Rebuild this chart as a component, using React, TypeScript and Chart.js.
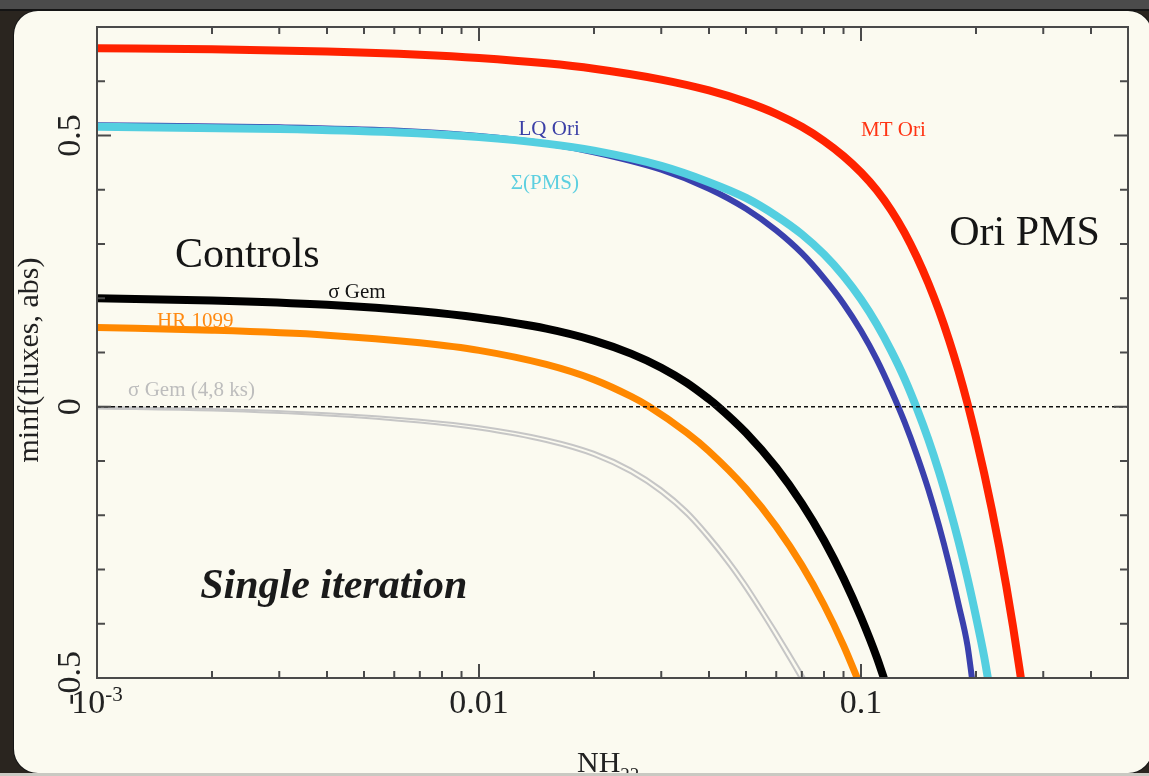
import React, { useEffect, useRef } from "react";
import { Chart, registerables } from "chart.js";

Chart.register(...registerables);

// ---------- data (NH in units of 1e22, value = minf(fluxes, abs)) ----------
const NH_MT_ORI = [0.001, 0.002, 0.004, 0.007, 0.01, 0.015, 0.02, 0.03, 0.04, 0.05, 0.06, 0.07, 0.08, 0.09, 0.1, 0.11, 0.12, 0.13, 0.14, 0.15, 0.16, 0.17, 0.18, 0.19, 0.2, 0.21, 0.22, 0.23, 0.24, 0.25, 0.26, 0.265];
const VAL_MT_ORI = [0.661, 0.659, 0.655, 0.649, 0.643, 0.633, 0.623, 0.603, 0.583, 0.562, 0.54, 0.516, 0.49, 0.462, 0.432, 0.399, 0.362, 0.321, 0.276, 0.228, 0.177, 0.123, 0.066, 0.006, -0.057, -0.122, -0.189, -0.258, -0.33, -0.405, -0.483, -0.523];

const NH_PMS = [0.001, 0.003, 0.006, 0.01, 0.015, 0.02, 0.03, 0.04, 0.05, 0.06, 0.07, 0.08, 0.09, 0.1, 0.11, 0.12, 0.13, 0.14, 0.15, 0.16, 0.17, 0.18, 0.19, 0.2, 0.21, 0.216];
const VAL_PMS = [0.516, 0.512, 0.506, 0.497, 0.485, 0.472, 0.444, 0.414, 0.385, 0.352, 0.318, 0.281, 0.241, 0.198, 0.152, 0.103, 0.052, -0.003, -0.06, -0.12, -0.183, -0.248, -0.316, -0.387, -0.46, -0.51];

const NH_LQ_ORI = [0.001, 0.003, 0.006, 0.01, 0.015, 0.02, 0.03, 0.04, 0.05, 0.06, 0.07, 0.08, 0.09, 0.1, 0.11, 0.12, 0.13, 0.14, 0.15, 0.16, 0.17, 0.18, 0.19, 0.196];
const VAL_LQ_ORI = [0.519, 0.515, 0.509, 0.499, 0.485, 0.469, 0.437, 0.402, 0.365, 0.325, 0.283, 0.237, 0.19, 0.14, 0.087, 0.03, -0.028, -0.089, -0.152, -0.219, -0.29, -0.364, -0.44, -0.51];

const NH_SIG_GEM = [0.001, 0.002, 0.004, 0.007, 0.01, 0.015, 0.02, 0.025, 0.03, 0.035, 0.04, 0.042, 0.05, 0.06, 0.07, 0.08, 0.09, 0.1, 0.11, 0.116];
const VAL_SIG_GEM = [0.2, 0.196, 0.188, 0.176, 0.164, 0.144, 0.122, 0.098, 0.072, 0.044, 0.014, 0.002, -0.048, -0.112, -0.178, -0.246, -0.316, -0.388, -0.462, -0.51];

const NH_HR1099 = [0.001, 0.002, 0.004, 0.007, 0.01, 0.015, 0.02, 0.025, 0.0278, 0.035, 0.04, 0.05, 0.06, 0.07, 0.08, 0.09, 0.1];
const VAL_HR1099 = [0.146, 0.141, 0.132, 0.118, 0.104, 0.078, 0.05, 0.019, 0.001, -0.048, -0.082, -0.151, -0.221, -0.292, -0.365, -0.44, -0.517];

const NH_SIG_GEM_SHORT = [0.001, 0.002, 0.004, 0.007, 0.01, 0.015, 0.02, 0.025, 0.03, 0.035, 0.04, 0.045, 0.05, 0.055, 0.06, 0.065, 0.07, 0.075];
const VAL_SIG_GEM_SHORT_A = [0.0, -0.004, -0.012, -0.024, -0.036, -0.058, -0.083, -0.114, -0.15, -0.19, -0.235, -0.28, -0.325, -0.37, -0.412, -0.452, -0.49, -0.528];
const VAL_SIG_GEM_SHORT_B = [-0.003, -0.007, -0.016, -0.029, -0.042, -0.065, -0.091, -0.123, -0.16, -0.201, -0.247, -0.293, -0.339, -0.384, -0.427, -0.468, -0.507, -0.545];

const NH_ZERO = [0.001, 0.5];
const VAL_ZERO = [0, 0];

// axis ticks
const X_MIN = 0.001;
const X_MAX = 0.5;
const Y_MIN = -0.5;
const Y_MAX = 0.7;
const X_MAJOR = [0.001, 0.01, 0.1];
const X_MAJOR_LABELS = ["10^-3", "0.01", "0.1"];
const X_MINOR = [0.002, 0.003, 0.004, 0.005, 0.006, 0.007, 0.008, 0.009, 0.02, 0.03, 0.04, 0.05, 0.06, 0.07, 0.08, 0.09, 0.2, 0.3, 0.4, 0.5];
const Y_MAJOR = [-0.5, 0, 0.5];
const Y_MAJOR_LABELS = ["-0.5", "0", "0.5"];
const Y_MINOR = [-0.4, -0.3, -0.2, -0.1, 0.1, 0.2, 0.3, 0.4, 0.6, 0.7];

// annotation labels (anchored in data coordinates)
const NOTE_TEXT = ["LQ Ori", "Σ(PMS)", "MT Ori", "Ori PMS", "Controls", "σ Gem", "HR 1099", "σ Gem (4,8 ks)", "Single iteration"];
const NOTE_X = [0.01269, 0.01211, 0.1, 0.1702, 0.0016, 0.00403, 0.001436, 0.001206, 0.001862];
const NOTE_Y = [0.501, 0.401, 0.499, 0.298, 0.258, 0.2, 0.147, 0.0198, -0.3525];
const NOTE_COLOR = ["#3b3fa6", "#5ccfe0", "#ff3414", "#151515", "#151515", "#151515", "#ff8a12", "#bdbdbd", "#1a1a1a"];
const NOTE_FONT = [
  '21px "Liberation Serif"',
  '21px "Liberation Serif"',
  '21px "Liberation Serif"',
  '42px "Liberation Serif"',
  '42px "Liberation Serif"',
  '21px "Liberation Serif"',
  '21px "Liberation Serif"',
  '21px "Liberation Serif"',
  'italic bold 42px "Liberation Serif"',
];

const pts = (xs: number[], ys: number[]) => xs.map((x, i) => ({ x, y: ys[i] }));

const W = 1149;
const H = 776;

const decorPlugin = {
  id: "decor",
  afterDatasetsDraw(chart: any) {
    const ctx: CanvasRenderingContext2D = chart.ctx;
    const { left, right, top, bottom } = chart.chartArea;
    const xs = chart.scales.x;
    const ys = chart.scales.y;
    ctx.save();

    // frame
    ctx.strokeStyle = "#4a4a4a";
    ctx.lineWidth = 2;
    ctx.strokeRect(left, top, right - left, bottom - top);

    // inward ticks on all four sides
    const tick = (x1: number, y1: number, x2: number, y2: number) => {
      ctx.beginPath();
      ctx.moveTo(x1, y1);
      ctx.lineTo(x2, y2);
      ctx.stroke();
    };
    ctx.lineWidth = 2;
    X_MAJOR.forEach((v) => {
      const px = xs.getPixelForValue(v);
      tick(px, bottom, px, bottom - 14);
      tick(px, top, px, top + 14);
    });
    X_MINOR.forEach((v) => {
      const px = xs.getPixelForValue(v);
      tick(px, bottom, px, bottom - 7);
      tick(px, top, px, top + 7);
    });
    Y_MAJOR.forEach((v) => {
      const py = ys.getPixelForValue(v);
      tick(left, py, left + 14, py);
      tick(right, py, right - 14, py);
    });
    Y_MINOR.forEach((v) => {
      const py = ys.getPixelForValue(v);
      tick(left, py, left + 8, py);
      tick(right, py, right - 8, py);
    });

    // x tick labels
    ctx.fillStyle = "#222";
    ctx.textBaseline = "alphabetic";
    X_MAJOR.forEach((v, i) => {
      const px = xs.getPixelForValue(v);
      const lab = X_MAJOR_LABELS[i];
      if (lab.includes("^")) {
        const [base, exp] = lab.split("^");
        ctx.font = '34px "Liberation Serif"';
        const wb = ctx.measureText(base).width;
        ctx.font = '21px "Liberation Serif"';
        const we = ctx.measureText(exp).width;
        const x0 = px - (wb + we) / 2;
        ctx.textAlign = "left";
        ctx.font = '34px "Liberation Serif"';
        ctx.fillText(base, x0, 713);
        ctx.font = '21px "Liberation Serif"';
        ctx.fillText(exp, x0 + wb, 701);
      } else {
        ctx.font = '34px "Liberation Serif"';
        ctx.textAlign = "center";
        ctx.fillText(lab, px, 713);
      }
    });

    // y tick labels (rotated)
    Y_MAJOR.forEach((v, i) => {
      const py = ys.getPixelForValue(v);
      ctx.save();
      ctx.translate(80, py);
      ctx.rotate(-Math.PI / 2);
      ctx.font = '34px "Liberation Serif"';
      ctx.textAlign = "center";
      ctx.fillText(Y_MAJOR_LABELS[i], 0, 0);
      ctx.restore();
    });

    // axis titles
    ctx.save();
    ctx.translate(38, 360);
    ctx.rotate(-Math.PI / 2);
    ctx.font = '30px "Liberation Serif"';
    ctx.textAlign = "center";
    ctx.fillText("minf(fluxes, abs)", 0, 0);
    ctx.restore();

    ctx.textAlign = "left";
    ctx.font = '30px "Liberation Serif"';
    ctx.fillText("NH", 577, 772);
    const wNH = ctx.measureText("NH").width;
    ctx.font = '19px "Liberation Serif"';
    ctx.fillText("22", 577 + wNH, 781);

    // annotations
    NOTE_TEXT.forEach((t, i) => {
      ctx.font = NOTE_FONT[i];
      ctx.fillStyle = NOTE_COLOR[i];
      ctx.textAlign = "left";
      ctx.fillText(t, xs.getPixelForValue(NOTE_X[i]), ys.getPixelForValue(NOTE_Y[i]));
    });

    ctx.restore();
  },
};

export default function App() {
  const ref = useRef<HTMLCanvasElement | null>(null);

  useEffect(() => {
    const canvas = ref.current;
    if (!canvas) return;
    const line = (label: string, data: any[], color: string, width: number, extra: any = {}) => ({
      label,
      data,
      borderColor: color,
      backgroundColor: color,
      borderWidth: width,
      pointRadius: 0,
      fill: false,
      ...extra,
    });
    const chart = new Chart(canvas, {
      type: "line",
      data: {
        datasets: [
          line("zero", pts(NH_ZERO, VAL_ZERO), "#111111", 1.6, { borderDash: [4, 3] }),
          line("Σ(PMS)", pts(NH_PMS, VAL_PMS), "#54cfe0", 8),
          line("LQ Ori", pts(NH_LQ_ORI, VAL_LQ_ORI), "#3a40ad", 6),
          line("MT Ori", pts(NH_MT_ORI, VAL_MT_ORI), "#ff2200", 8),
          line("σ Gem", pts(NH_SIG_GEM, VAL_SIG_GEM), "#000000", 8),
          line("HR 1099", pts(NH_HR1099, VAL_HR1099), "#ff8800", 7),
          line("σ Gem (4,8 ks) a", pts(NH_SIG_GEM_SHORT, VAL_SIG_GEM_SHORT_A), "#c6c6c6", 2),
          line("σ Gem (4,8 ks) b", pts(NH_SIG_GEM_SHORT, VAL_SIG_GEM_SHORT_B), "#c6c6c6", 2),
        ],
      },
      options: {
        animation: false,
        responsive: false,
        devicePixelRatio: 1,
        layout: { padding: { left: 97, top: 27, right: 21, bottom: 98 } },
        plugins: { legend: { display: false }, tooltip: { enabled: false } },
        elements: { line: { cubicInterpolationMode: "monotone", borderCapStyle: "butt" } },
        scales: {
          x: { type: "logarithmic", min: X_MIN, max: X_MAX, display: false },
          y: { type: "linear", min: Y_MIN, max: Y_MAX, display: false },
        },
      },
      plugins: [decorPlugin],
    } as any);
    return () => chart.destroy();
  }, []);

  return (
    <div style={{ position: "fixed", left: 0, top: 0, width: W, height: H, overflow: "hidden", background: "#2a251f" }}>
      <div style={{ position: "absolute", left: 0, top: 0, width: W, height: 9, background: "#4b4b4b", borderBottom: "2px solid #141414" }} />
      <div
        style={{
          position: "absolute",
          left: 14,
          top: 11,
          width: 1138,
          height: 762,
          background: "#fbfaf0",
          borderRadius: 24,
          boxShadow: "0 0 0 1px #151515",
        }}
      />
      <canvas ref={ref} width={W} height={H} style={{ position: "absolute", left: 0, top: 0, width: W, height: H }} />
      <div style={{ position: "absolute", left: 0, top: 773, width: W, height: 3, background: "#c9c9c2" }} />
    </div>
  );
}
